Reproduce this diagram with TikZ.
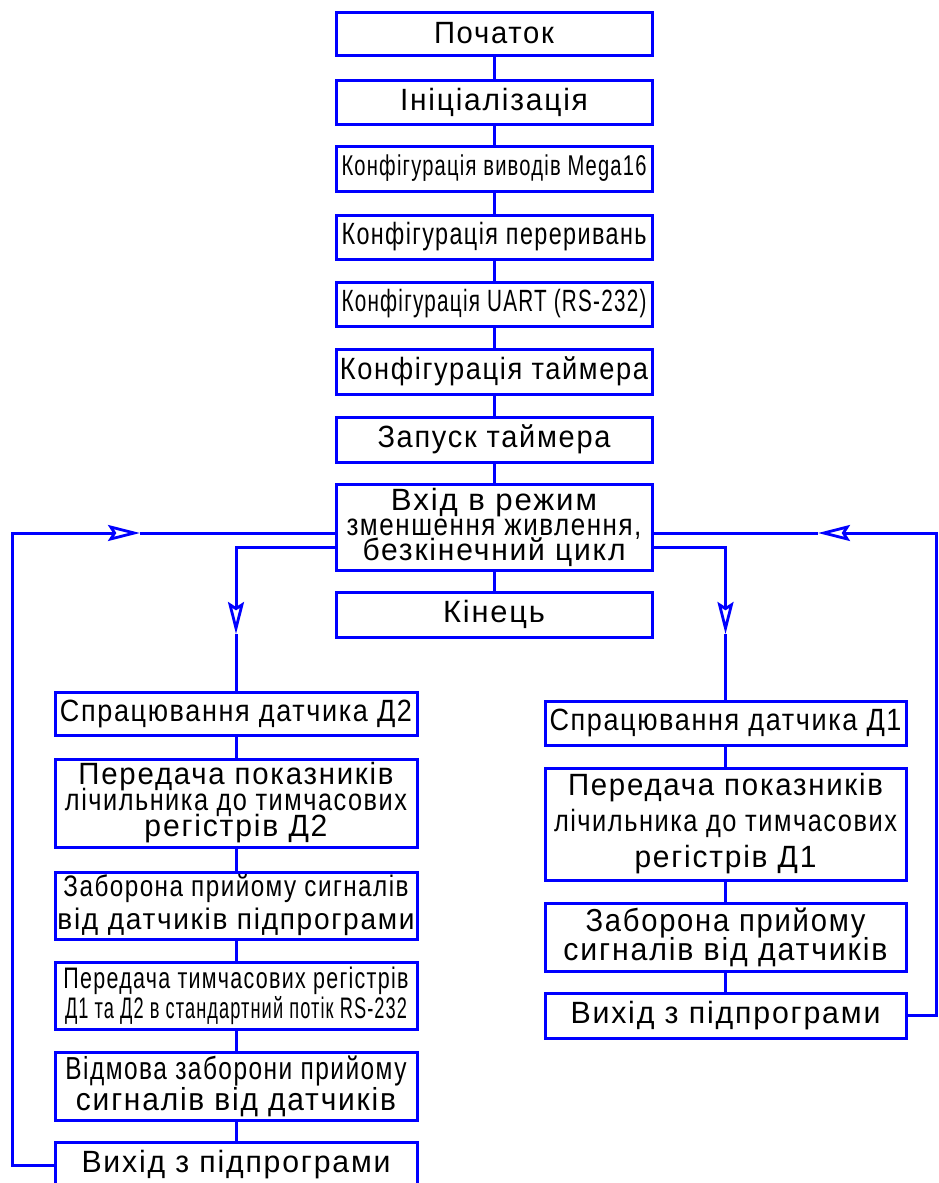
\documentclass[tikz,border=0pt]{standalone}
\usepackage{fontspec}
\setmainfont{Liberation Sans}[LetterSpace=6]
\usetikzlibrary{arrows.meta}
\definecolor{fb}{RGB}{0,0,255}
\newcommand{\hx}[2]{\resizebox{#1pt}{1.06\height}{#2}}
\tikzset{
  box/.style={draw=fb, line width=3pt, fill=white, inner sep=0pt, align=center,
    font={\fontsize{29}{25}\selectfont\lineskiplimit=-100pt}},
  cbox/.style={box, minimum width=316pt},
  lbox/.style={box, minimum width=362pt},
  rbox/.style={box, minimum width=361pt},
  conn/.style={draw=fb, line width=3pt},
  tip/.style={-{Stealth[open, length=32pt, width=16pt, inset=5pt, line width=2.8pt]}}
}
\begin{document}
\begin{tikzpicture}[x=1pt, y=-1pt]
\useasboundingbox (0,0) rectangle (938,1183);
\fill[white] (0,0) rectangle (938,1183);
% centre column
\node[cbox, minimum height=43pt] (poch) at (494,33.5) {\hx{120}{Початок}};
\node[cbox, minimum height=44pt] (init) at (494,102) {\hx{188}{Ініціалізація}};
\node[cbox, minimum height=45pt, font={\fontsize{27}{25}\selectfont}] (mega) at (494,168.5) {\hx{305}{Конфігурація виводів Mega16}};
\node[cbox, minimum height=44pt] (intr) at (494,237) {\hx{305}{Конфігурація переривань}};
\node[cbox, minimum height=44pt] (uart) at (494,304) {\hx{305}{Конфігурація UART (RS-232)}};
\node[cbox, minimum height=45pt] (tcfg) at (494,371.5) {\hx{308}{Конфігурація таймера}};
\node[cbox, minimum height=45pt] (tstart) at (494,439.5) {\hx{233}{Запуск таймера}};
\node[cbox, minimum height=86pt] (vhid) at (494,527) {\hx{206}{Вхід в режим}\\ \hx{295}{зменшення живлення,}\\ \hx{263}{безкінечний цикл}};
\node[cbox, minimum height=45pt] (kin) at (494,614.5) {\hx{102}{Кінець}};
% left column
\node[lbox, minimum height=43pt] (sp2) at (236,713.5) {\hx{352}{Спрацювання датчика Д2}};
\node[lbox, minimum height=88pt, font={\fontsize{29}{26}\selectfont\lineskiplimit=-100pt}] (per2) at (236,803) {\hx{315}{Передача показників}\\ \hx{342}{лічильника до тимчасових}\\ \hx{183}{регістрів Д2}};
\node[lbox, minimum height=67pt, font={\fontsize{28}{33}\selectfont\lineskiplimit=-100pt}] (zab2) at (236,905.5) {\hx{345}{Заборона прийому сигналів}\\ \hx{357}{від датчиків підпрограми}};
\node[lbox, minimum height=67pt, font={\fontsize{28}{30}\selectfont\lineskiplimit=-100pt}] (trans) at (236,995.5) {\hx{345}{Передача тимчасових регістрів}\\ \hx{342}{Д1 та Д2 в стандартний потік RS-232}};
\node[lbox, minimum height=68pt, font={\fontsize{30}{31}\selectfont\lineskiplimit=-100pt}] (vidm) at (236,1086) {\hx{341}{Відмова заборони прийому}\\ \hx{320}{сигналів від датчиків}};
\node[lbox, minimum height=46pt] (vyh2) at (236,1165) {\hx{309}{Вихід з підпрограми}};
% right column
\node[rbox, minimum height=44pt] (sp1) at (725.5,723) {\hx{352}{Спрацювання датчика Д1}};
\node[rbox, minimum height=112pt, font={\fontsize{29}{36}\selectfont\lineskiplimit=-100pt}] (per1) at (725.5,824) {\hx{315}{Передача показників}\\ \hx{343}{лічильника до тимчасових}\\ \hx{182}{регістрів Д1}};
\node[rbox, minimum height=68pt, font={\fontsize{30}{29}\selectfont\lineskiplimit=-100pt}] (zab1) at (725.5,937) {\hx{280}{Заборона прийому}\\ \hx{324}{сигналів від датчиків}};
\node[rbox, minimum height=45pt] (vyh1) at (725.5,1015.5) {\hx{310}{Вихід з підпрограми}};
% chains
\draw[conn] (poch) -- (init);
\draw[conn] (init) -- (mega);
\draw[conn] (mega) -- (intr);
\draw[conn] (intr) -- (uart);
\draw[conn] (uart) -- (tcfg);
\draw[conn] (tcfg) -- (tstart);
\draw[conn] (tstart) -- (vhid);
\draw[conn] (vhid) -- (kin);
\draw[conn] (sp2) -- (per2);
\draw[conn] (per2) -- (zab2);
\draw[conn] (zab2) -- (trans);
\draw[conn] (trans) -- (vidm);
\draw[conn] (vidm) -- (vyh2);
\draw[conn] (sp1) -- (per1);
\draw[conn] (per1) -- (zab1);
\draw[conn] (zab1) -- (vyh1);
% loops back
\coordinate (LT) at (12,533);
\coordinate (LA) at (140,533);
\coordinate (RT) at (936,533);
\coordinate (RA) at (818,533);
\draw[conn, tip] (vyh2.west) -| (LT) -- (LA);
\draw[conn] (LA) -- (vhid.west |- LA);
\draw[conn, tip] (vyh1.east) -| (RT) -- (RA);
\draw[conn] (RA) -- (vhid.east |- RA);
% branches down
\coordinate (DL) at (236,547);
\coordinate (DLA) at (236,634);
\coordinate (DR) at (725.5,547);
\coordinate (DRA) at (725.5,634);
\draw[conn, tip] (vhid.west |- DL) -- (DL) -- (DLA);
\draw[conn] (DLA) -- (sp2);
\draw[conn, tip] (vhid.east |- DR) -- (DR) -- (DRA);
\draw[conn] (DRA) -- (sp1);
\end{tikzpicture}
\end{document}
